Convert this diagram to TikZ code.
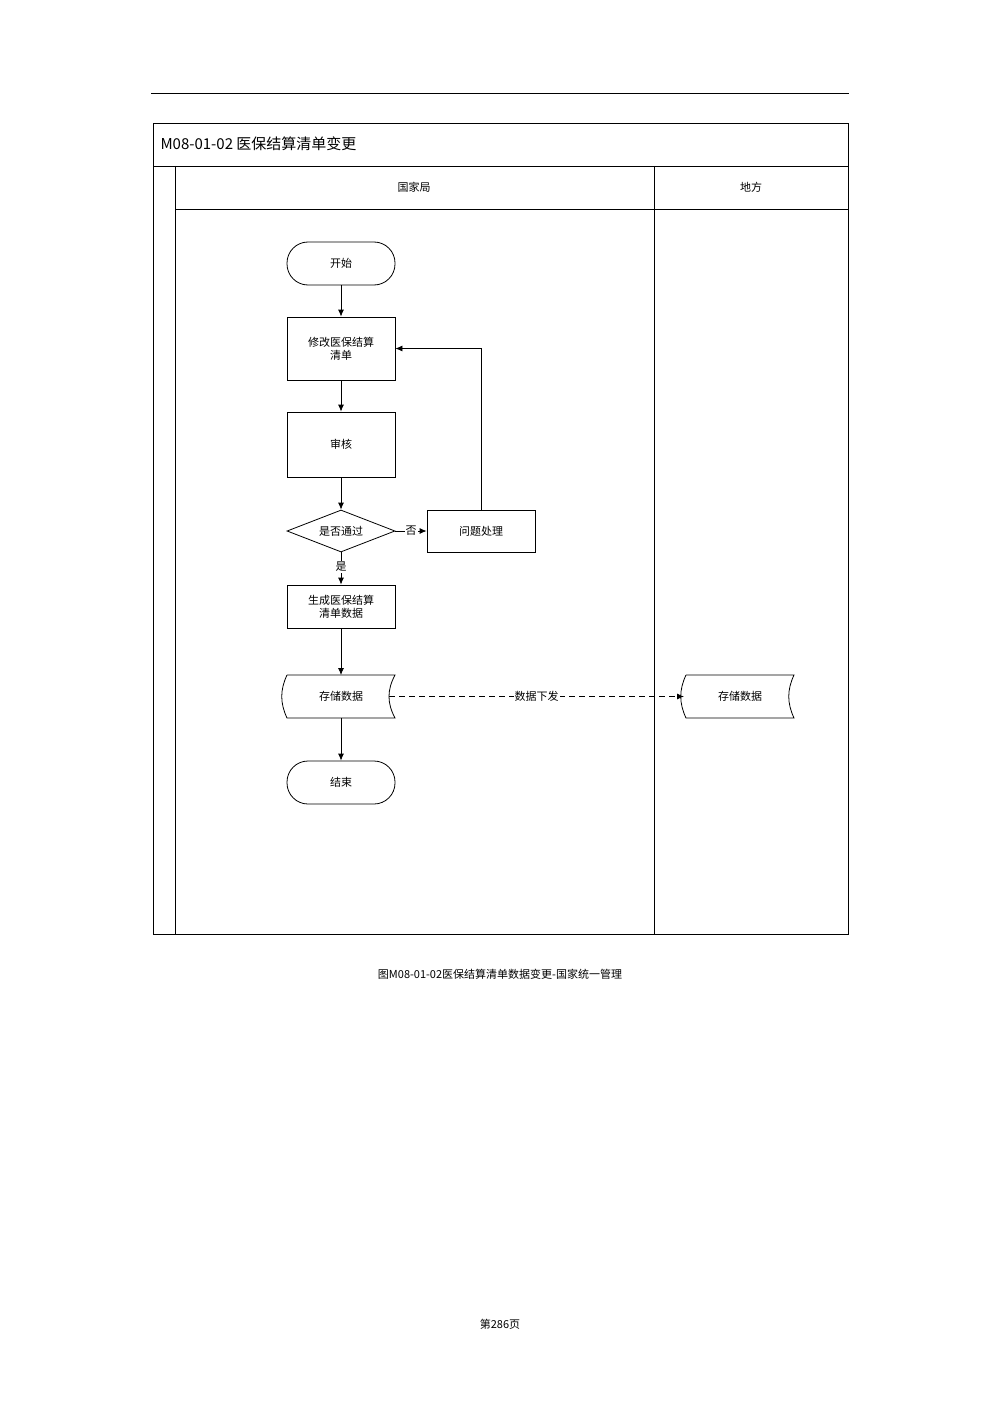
\documentclass[tikz,border=0pt]{standalone}
\usepackage{fontspec}
\setmainfont{Liberation Serif}
\newfontfamily\cjk{Noto Sans CJK SC}
\usetikzlibrary{shapes.geometric,arrows.meta}
\begin{document}
\begin{tikzpicture}[x=1pt,y=-1pt,font=\cjk\fontsize{11}{13}\selectfont,
 box/.style={draw,thick,minimum width=108pt,align=center,inner sep=1pt},
 term/.style={box,rounded corners=21pt,minimum height=43pt},
 arr/.style={-{Latex[length=7pt,width=6pt]},thick},
 ln/.style={thick}]
\useasboundingbox (0,0) rectangle (1000,1415);
\draw[ln] (151,93) -- (849,93);
\draw[ln] (153,123) rectangle (848,934);
\draw[ln] (153,166) -- (848,166);
\draw[ln] (175,166) -- (175,934);
\draw[ln] (175,209) -- (848,209);
\draw[ln] (654,166) -- (654,934);
\node[anchor=west,font=\cjk\fontsize{15}{17}\selectfont] (title) at (157,144) {M08-01-02 医保结算清单变更};
\node (h1) at (414,187) {国家局};
\node (h2) at (751,187) {地方};
\node[term] (start) at (341,263.5) {开始};
\node[box,minimum height=63pt] (mod) at (341,348.5) {修改医保结算\\清单};
\node[box,minimum height=65pt] (rev) at (341,444.5) {审核};
\node[draw,thick,diamond,aspect=2.57,minimum width=108pt,minimum height=42pt,inner sep=0pt] (dec) at (341,531) {是否通过};
\node[box,minimum height=42pt] (iss) at (481,531) {问题处理};
\node[box,minimum height=43pt] (gen) at (341,606.5) {生成医保结算\\清单数据};
\node[term] (end) at (341,782.5) {结束};
% storage shapes
\draw[thick] (287,675) -- (395,675) .. controls (387,690) and (387,703) .. (395,718) -- (287,718) .. controls (280,703) and (280,690) .. (287,675);
\coordinate (s1) at (341,696.5);
\node (s1t) at (341,696.5) {存储数据};
\draw[thick] (686,675) -- (794,675) .. controls (787,690) and (787,703) .. (794,718) -- (686,718) .. controls (679,703) and (679,690) .. (686,675);
\node (s2t) at (740,696.5) {存储数据};
\coordinate (s1top) at (341,675);
\coordinate (s1bot) at (341,718);
\coordinate (s1r) at (389,696.5);
\coordinate (s2l) at (684,696.5);
\draw[arr] (start) -- (mod);
\draw[arr] (mod) -- (rev);
\draw[arr] (rev) -- (dec.north);
\draw[arr] (dec.east) -- node[fill=white,inner sep=1pt] {否} (iss.west);
\draw[arr] (iss.north) |- (mod.east);
\draw[arr] (dec.south) -- node[fill=white,inner sep=1pt,pos=0.45] {是} (gen.north);
\draw[arr] (gen) -- (s1top);
\draw[arr] (s1bot) -- (end);
\draw[arr,dashed,dash pattern=on 6pt off 4pt] (s1r) -- node[fill=white,inner sep=1pt] {数据下发} (s2l);
\node[font=\cjk\fontsize{11}{13}\selectfont] (cap) at (500,974) {图M08-01-02医保结算清单数据变更-国家统一管理};
\node[font=\cjk\fontsize{11}{13}\selectfont] (pg) at (500,1324) {第286页};
\end{tikzpicture}
\end{document}
